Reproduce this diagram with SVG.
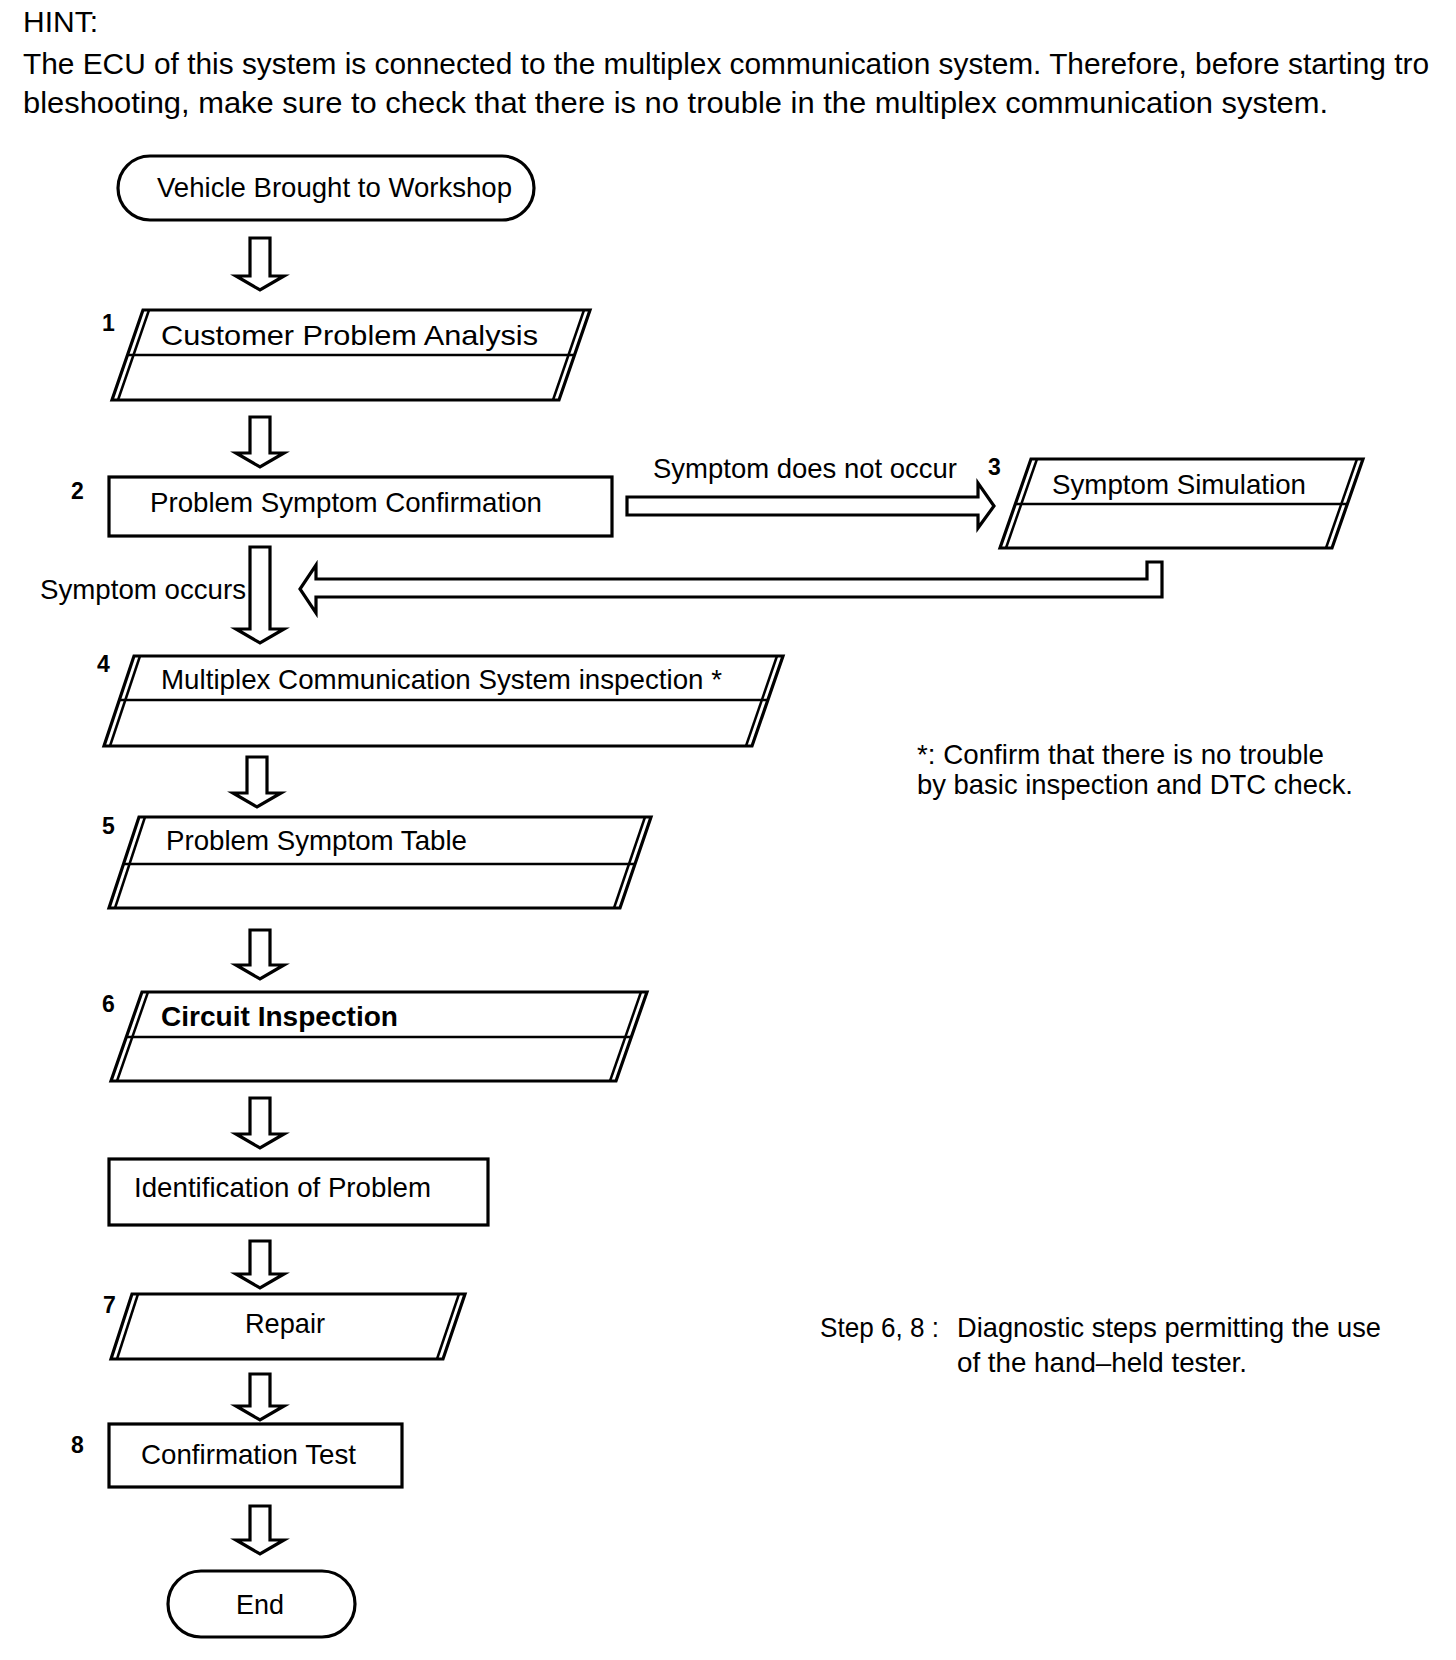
<svg xmlns="http://www.w3.org/2000/svg" width="1456" height="1660" viewBox="0 0 1456 1660">
<style>
.t{font-family:"Liberation Sans",Arial,sans-serif;font-size:28px;fill:#000}
.h{font-size:30px}
.n{font-family:"Liberation Sans",Arial,sans-serif;font-size:23px;font-weight:bold;fill:#000}
.b{font-weight:bold}
.s{fill:#fff;stroke:#000;stroke-width:3.2;stroke-linejoin:miter}
.l{fill:none;stroke:#000;stroke-width:2.5}
.a{fill:#fff;stroke:#000;stroke-width:3.2;stroke-linejoin:miter}
</style>
<rect width="1456" height="1660" fill="#fff"/>
<g id="header">
<text class="t h" x="23" y="32" textLength="75" lengthAdjust="spacingAndGlyphs">HINT:</text>
<text class="t h" x="23" y="74" textLength="1406" lengthAdjust="spacingAndGlyphs">The ECU of this system is connected to the multiplex communication system. Therefore, before starting tro</text>
<text class="t h" x="23" y="113" textLength="1305" lengthAdjust="spacingAndGlyphs">bleshooting, make sure to check that there is no trouble in the multiplex communication system.</text>
</g>
<g id="diagram" transform="translate(2,3)">
<g id="connectors">
<path class="a" d="M248,235 V273 H234 L258,287 L282,273 H268 V235 Z"/>
<path class="a" d="M248,414 V450 H234 L258,464 L282,450 H268 V414 Z"/>
<path class="a" d="M248,544 V626 H234 L258,640 L282,626 H268 V544 Z"/>
<path class="a" d="M245,754 V790 H231 L255,804 L279,790 H265 V754 Z"/>
<path class="a" d="M248,927 V962 H234 L258,976 L282,962 H268 V927 Z"/>
<path class="a" d="M248,1095 V1131 H234 L258,1145 L282,1131 H268 V1095 Z"/>
<path class="a" d="M248,1238 V1271 H234 L258,1285 L282,1271 H268 V1238 Z"/>
<path class="a" d="M248,1371 V1403 H234 L258,1417 L282,1403 H268 V1371 Z"/>
<path class="a" d="M248,1503 V1537 H234 L258,1551 L282,1537 H268 V1503 Z"/>
<path class="a" d="M625,494 H976 V480 L992,503 L976,525 V512 H625 Z"/>
<path class="a" d="M1145,559 H1160 V594 H314 V610 L298,586 L314,562 V576 H1145 Z"/>
<text class="t" x="651" y="475" textLength="304" lengthAdjust="spacingAndGlyphs">Symptom does not occur</text>
<text class="t" x="38" y="596" textLength="206" lengthAdjust="spacingAndGlyphs">Symptom occurs</text>
</g>
<g id="start">
<rect class="s" x="116" y="153" width="416" height="64" rx="32"/>
<text class="t" x="155" y="194" textLength="355" lengthAdjust="spacingAndGlyphs">Vehicle Brought to Workshop</text>
</g>
<g id="step1">
<polygon class="s" points="141,307 588,307 557,397 110,397"/>
<line class="l" x1="147" y1="307" x2="116" y2="397"/>
<line class="l" x1="582" y1="307" x2="551" y2="397"/>
<line class="l" x1="126" y1="352" x2="573" y2="352"/>
<text class="n" x="100" y="328">1</text>
<text class="t" x="159" y="342" font-size="31" textLength="377" lengthAdjust="spacingAndGlyphs">Customer Problem Analysis</text>
</g>
<g id="step2">
<rect class="s" x="107" y="474" width="503" height="59"/>
<text class="n" x="69" y="496">2</text>
<text class="t" x="148" y="509" font-size="29" textLength="392" lengthAdjust="spacingAndGlyphs">Problem Symptom Confirmation</text>
</g>
<g id="step3">
<polygon class="s" points="1029,456 1361,456 1330,545 998,545"/>
<line class="l" x1="1035" y1="456" x2="1004" y2="545"/>
<line class="l" x1="1355" y1="456" x2="1324" y2="545"/>
<line class="l" x1="1014" y1="501" x2="1346" y2="501"/>
<text class="n" x="986" y="472">3</text>
<text class="t" x="1050" y="491" font-size="29" textLength="254" lengthAdjust="spacingAndGlyphs">Symptom Simulation</text>
</g>
<g id="step4">
<polygon class="s" points="132,653 781,653 750,743 102,743"/>
<line class="l" x1="138" y1="653" x2="108" y2="743"/>
<line class="l" x1="775" y1="653" x2="744" y2="743"/>
<line class="l" x1="117" y1="697" x2="766" y2="697"/>
<text class="n" x="95" y="669">4</text>
<text class="t" x="159" y="686" textLength="561" lengthAdjust="spacingAndGlyphs">Multiplex Communication System inspection *</text>
</g>
<g id="note4">
<text class="t" x="915" y="761" textLength="407" lengthAdjust="spacingAndGlyphs">*: Confirm that there is no trouble</text>
<text class="t" x="915" y="791" textLength="436" lengthAdjust="spacingAndGlyphs">by basic inspection and DTC check.</text>
</g>
<g id="step5">
<polygon class="s" points="137,814 649,814 618,905 107,905"/>
<line class="l" x1="143" y1="814" x2="113" y2="905"/>
<line class="l" x1="643" y1="814" x2="612" y2="905"/>
<line class="l" x1="122" y1="861" x2="634" y2="861"/>
<text class="n" x="100" y="831">5</text>
<text class="t" x="164" y="847" textLength="301" lengthAdjust="spacingAndGlyphs">Problem Symptom Table</text>
</g>
<g id="step6">
<polygon class="s" points="140,989 645,989 614,1078 109,1078" stroke-width="4"/>
<line class="l" x1="146" y1="989" x2="115" y2="1078"/>
<line class="l" x1="639" y1="989" x2="608" y2="1078"/>
<line class="l" x1="125" y1="1034" x2="630" y2="1034"/>
<text class="n" x="100" y="1009">6</text>
<text class="t b" x="159" y="1023" textLength="237" lengthAdjust="spacingAndGlyphs">Circuit Inspection</text>
</g>
<g id="identification">
<rect class="s" x="107" y="1156" width="379" height="66"/>
<text class="t" x="132" y="1194" textLength="297" lengthAdjust="spacingAndGlyphs">Identification of Problem</text>
</g>
<g id="step7">
<polygon class="s" points="130,1291 463,1291 441,1356 109,1356"/>
<line class="l" x1="136" y1="1291" x2="115" y2="1356"/>
<line class="l" x1="457" y1="1291" x2="435" y2="1356"/>
<text class="n" x="101" y="1310">7</text>
<text class="t" x="243" y="1330" textLength="80" lengthAdjust="spacingAndGlyphs">Repair</text>
</g>
<g id="step8">
<rect class="s" x="107" y="1421" width="293" height="63"/>
<text class="n" x="69" y="1450">8</text>
<text class="t" x="139" y="1461" textLength="215" lengthAdjust="spacingAndGlyphs">Confirmation Test</text>
</g>
<g id="end">
<rect class="s" x="166" y="1568" width="187" height="66" rx="33"/>
<text class="t" x="234" y="1611" textLength="48" lengthAdjust="spacingAndGlyphs">End</text>
</g>
<g id="note68">
<text class="t" x="818" y="1334" textLength="119" lengthAdjust="spacingAndGlyphs">Step 6, 8 :</text>
<text class="t" x="955" y="1334" textLength="424" lengthAdjust="spacingAndGlyphs">Diagnostic steps permitting the use</text>
<text class="t" x="955" y="1369" textLength="290" lengthAdjust="spacingAndGlyphs">of the hand–held tester.</text>
</g>
</g>
</svg>
